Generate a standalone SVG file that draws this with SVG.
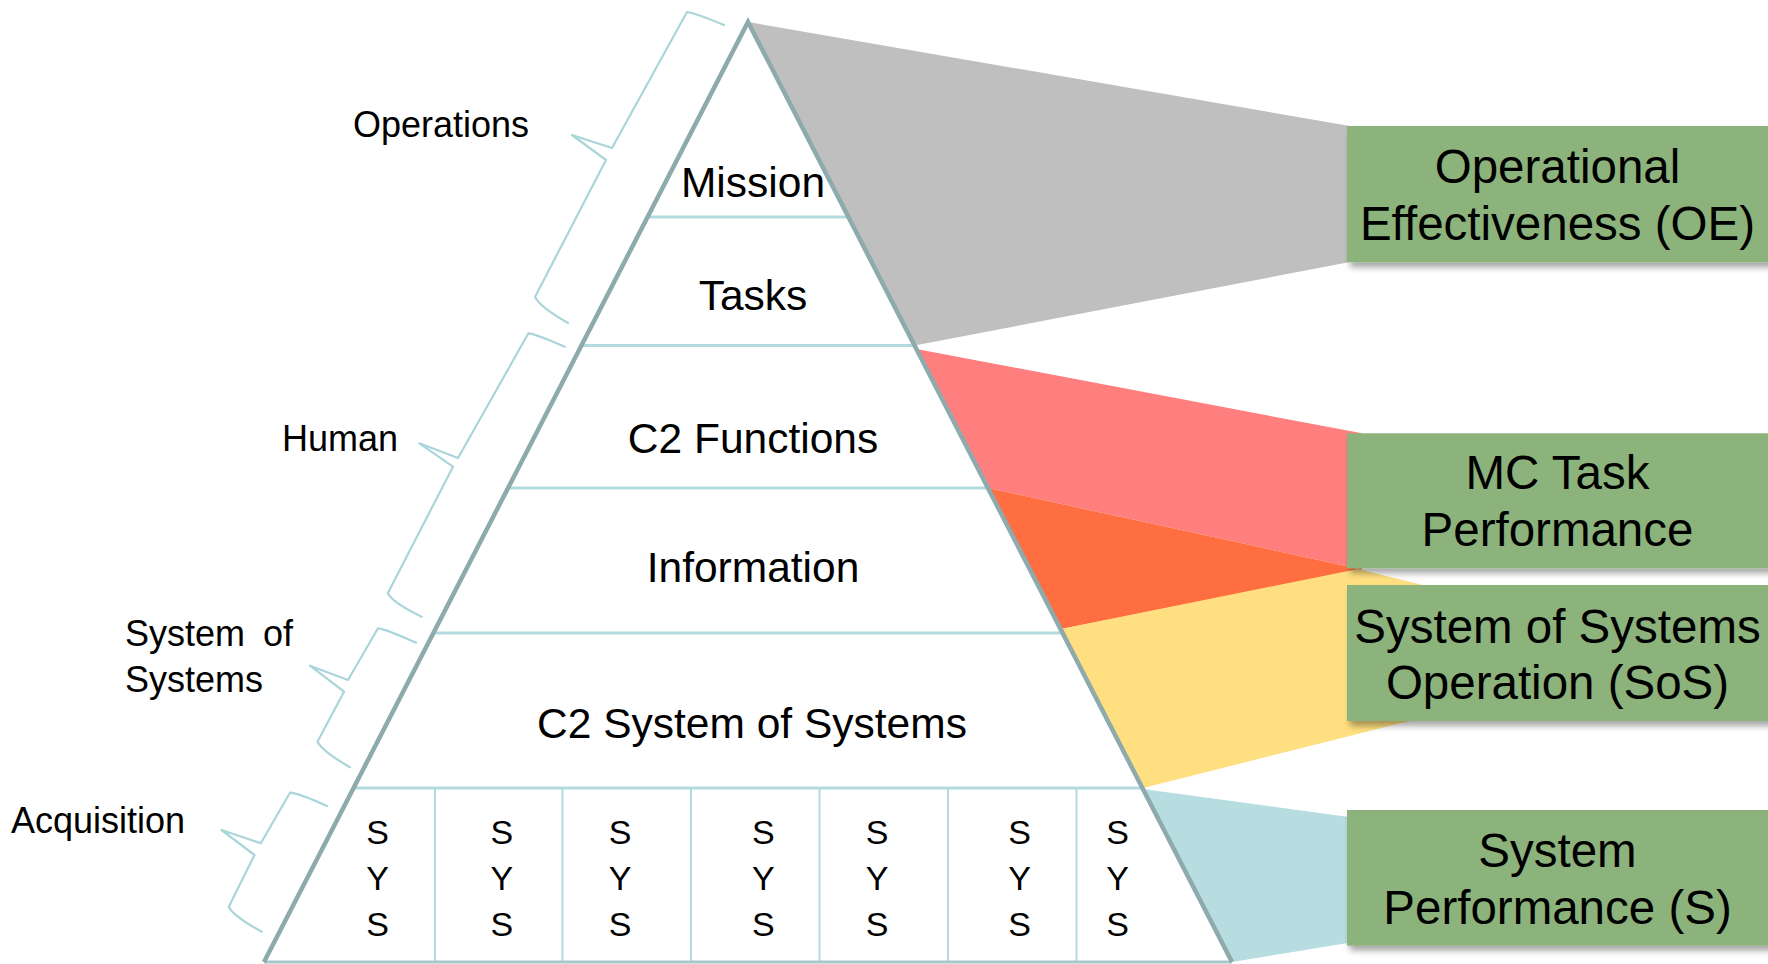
<svg xmlns="http://www.w3.org/2000/svg" width="1768" height="964" viewBox="0 0 1768 964">
<defs>
<style>
.t{font-family:"Liberation Sans",Arial,sans-serif;fill:#000}
.pl{font-size:42.5px;text-anchor:middle}
.sys{font-size:34px;text-anchor:middle}
.lbl{font-size:36px}
.bx{font-size:47.5px;text-anchor:middle}
.hl{stroke:#b3dbde;stroke-width:3;fill:none}
.vl{stroke:#b3dbde;stroke-width:2;fill:none}
.br{stroke:#aad5d9;stroke-width:2.2;fill:none;stroke-linejoin:round;stroke-linecap:round}
.box{fill:#8db37b;filter:url(#sh)}
</style>
<filter id="sh" x="-5%" y="-10%" width="115%" height="130%">
<feDropShadow dx="3" dy="5" stdDeviation="3" flood-color="#000" flood-opacity="0.35"/>
</filter>
</defs>
<rect width="1768" height="964" fill="#fff"/>

<g id="connectors">
<polygon points="748,22 1350,126 1350,262 914.5,345.5" fill="#bfbfbf"/>
<polygon points="916.5,349 1362,433.3 1362,569.4 988,488" fill="#ff7f7f"/>
<polygon points="988,488 1362,569.4 1061,629" fill="#ff6e40"/>
<polygon points="1061,629 1358,569 1445,590.4 1445,712 1143,788" fill="#ffdf80"/>
<polygon points="1143,789 1360,818.6 1360,941 1232,962" fill="#b7dde0"/>
</g>

<g id="pyramid">
<line class="hl" x1="647.6" y1="217" x2="848.4" y2="217"/>
<line class="hl" x1="581.4" y1="345.5" x2="914.6" y2="345.5"/>
<line class="hl" x1="508.1" y1="488" x2="987.9" y2="488"/>
<line class="hl" x1="433.4" y1="633" x2="1062.6" y2="633"/>
<line class="hl" x1="353.6" y1="788" x2="1142.4" y2="788"/>
<line class="vl" x1="435" y1="788" x2="435" y2="962"/>
<line class="vl" x1="562.5" y1="788" x2="562.5" y2="962"/>
<line class="vl" x1="691" y1="788" x2="691" y2="962"/>
<line class="vl" x1="819.5" y1="788" x2="819.5" y2="962"/>
<line class="vl" x1="948" y1="788" x2="948" y2="962"/>
<line class="vl" x1="1076.5" y1="788" x2="1076.5" y2="962"/>
<line x1="264" y1="962" x2="1232" y2="962" stroke="#a7c8cb" stroke-width="3"/>
<polyline points="264,962 748,22 1232,962" fill="none" stroke="#8eaaac" stroke-width="4.5" stroke-linejoin="miter"/>
</g>

<g id="layer-mission"><text class="t pl" x="753" y="196.7">Mission</text></g>
<g id="layer-tasks"><text class="t pl" x="753" y="310">Tasks</text></g>
<g id="layer-c2functions"><text class="t pl" x="753" y="453">C2 Functions</text></g>
<g id="layer-information"><text class="t pl" x="753" y="581.5">Information</text></g>
<g id="layer-c2sos"><text class="t pl" x="752" y="738.3">C2 System of Systems</text></g>

<g id="layer-sys">
<g class="t sys">
<text x="377.7" y="843.5">S</text><text x="377.7" y="889.5">Y</text><text x="377.7" y="935.5">S</text>
<text x="501.9" y="843.5">S</text><text x="501.9" y="889.5">Y</text><text x="501.9" y="935.5">S</text>
<text x="620" y="843.5">S</text><text x="620" y="889.5">Y</text><text x="620" y="935.5">S</text>
<text x="763.3" y="843.5">S</text><text x="763.3" y="889.5">Y</text><text x="763.3" y="935.5">S</text>
<text x="877" y="843.5">S</text><text x="877" y="889.5">Y</text><text x="877" y="935.5">S</text>
<text x="1019.5" y="843.5">S</text><text x="1019.5" y="889.5">Y</text><text x="1019.5" y="935.5">S</text>
<text x="1117.5" y="843.5">S</text><text x="1117.5" y="889.5">Y</text><text x="1117.5" y="935.5">S</text>
</g>
</g>

<g id="brace-operations">
<path class="br" d="M724,25 Q695,13 687,12 L612,148 L572,135 L606,160 L535,297 Q540,307 568,323"/>
<text class="t lbl" x="353" y="136.7">Operations</text>
</g>
<g id="brace-human">
<path class="br" d="M564.7,346.7 Q536,334 528.4,333.3 L458,458 L419.3,443.3 L453,466.7 L387.8,593.3 Q393,603 421.7,616.7"/>
<text class="t lbl" x="282" y="451">Human</text>
</g>
<g id="brace-sos">
<path class="br" d="M416,642.7 Q386,629 378,628.3 L348,680 L310,665.7 L344,691.7 L317.5,741.7 Q322,751 350,767.3"/>
<text class="t lbl" x="125" y="646" word-spacing="8">System of</text>
<text class="t lbl" x="125" y="692">Systems</text>
</g>
<g id="brace-acquisition">
<path class="br" d="M327,806 Q298,793 290,792.7 L260.8,843.3 L221.5,830 L254.5,855 L228.8,906.7 Q233,916 261.8,931.7"/>
<text class="t lbl" x="11" y="833">Acquisition</text>
</g>

<g id="box-oe">
<rect class="box" x="1347" y="126" width="430" height="136.3"/>
<text class="t bx" x="1557.5" y="183.3">Operational</text>
<text class="t bx" x="1557.5" y="240">Effectiveness (OE)</text>
</g>
<g id="box-mc">
<rect class="box" x="1347" y="433.3" width="430" height="135"/>
<text class="t bx" x="1557.5" y="489">MC Task</text>
<text class="t bx" x="1557.5" y="546">Performance</text>
</g>
<g id="box-sos">
<rect class="box" x="1347" y="585" width="430" height="136"/>
<text class="t bx" x="1557.5" y="642.7">System of Systems</text>
<text class="t bx" x="1557.5" y="699.3">Operation (SoS)</text>
</g>
<g id="box-s">
<rect class="box" x="1347" y="810" width="430" height="135.7"/>
<text class="t bx" x="1557.5" y="866.7">System</text>
<text class="t bx" x="1557.5" y="924">Performance (S)</text>
</g>
</svg>
